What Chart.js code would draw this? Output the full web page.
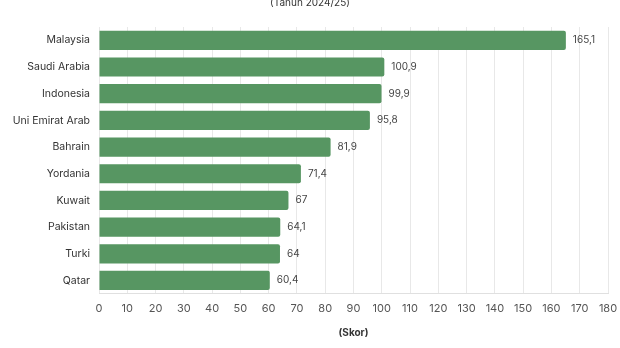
<!DOCTYPE html>
<html>
<head>
<meta charset="utf-8">
<script src="https://cdn.jsdelivr.net/npm/chart.js@4.4.1/dist/chart.umd.min.js"></script>
<style>
  html, body { margin: 0; padding: 0; background: #fff; }
  #wrap { width: 620px; height: 348px; }
</style>
</head>
<body>
<div id="wrap"><canvas id="chart"></canvas></div>
<script>
const countries = ['Malaysia', 'Saudi Arabia', 'Indonesia', 'Uni Emirat Arab', 'Bahrain',
  'Yordania', 'Kuwait', 'Pakistan', 'Turki', 'Qatar'];
const scores = [165.1, 100.9, 99.9, 95.8, 81.9, 71.4, 67, 64.1, 64, 60.4];
const xTicks = [0, 180, 10];

const FONT = 'Inter, "Noto Sans", sans-serif';

// value labels to the right of each bar, Indonesian decimal comma
const valueLabels = {
  id: 'valueLabels',
  afterDatasetsDraw(chart) {
    const { ctx } = chart;
    const meta = chart.getDatasetMeta(0);
    ctx.save();
    ctx.font = '10px ' + FONT;
    ctx.fillStyle = '#444';
    ctx.textAlign = 'left';
    ctx.textBaseline = 'middle';
    meta.data.forEach((bar, i) => {
      const txt = String(scores[i]).replace('.', ',');
      ctx.fillText(txt, bar.x + 7, bar.y);
    });
    ctx.restore();
  }
};

new Chart(document.getElementById('chart'), {
  type: 'bar',
  data: {
    labels: countries,
    datasets: [{
      data: scores,
      backgroundColor: '#579662',
      borderRadius: 2,
      borderSkipped: 'start',
      barPercentage: 0.9,
      categoryPercentage: 0.8,
    }]
  },
  options: {
    indexAxis: 'y',
    responsive: true,
    maintainAspectRatio: false,
    animation: false,
    layout: { padding: { left: 0, right: 0, top: 0, bottom: 9 } },
    plugins: {
      legend: { display: false },
      tooltip: { enabled: false },
      title: {
        display: true,
        text: '(Tahun 2024/25)',
        color: '#333',
        font: { family: FONT, size: 10, weight: 'normal' },
        padding: { top: -3, bottom: 18 },
      },
    },
    scales: {
      x: {
        min: xTicks[0],
        max: xTicks[1],
        afterFit(scale) { scale.paddingRight = 12; },
        ticks: {
          stepSize: xTicks[2],
          color: '#555',
          font: { family: FONT, size: 11 },
          padding: 8,
        },
        grid: { color: '#e8e8e8', drawTicks: false },
        border: { color: '#e0e0e0' },
        title: {
          display: true,
          text: '(Skor)',
          color: '#333',
          font: { family: FONT, size: 10, weight: 'bold' },
          padding: { top: 4, bottom: 0 },
        },
      },
      y: {
        afterFit(scale) { scale.width = 99; },
        ticks: {
          color: '#333',
          font: { family: FONT, size: 10.5 },
          padding: 9,
        },
        grid: { display: false, drawTicks: false },
        border: { display: false },
      },
    },
  },
  plugins: [valueLabels],
});
</script>
</body>
</html>
